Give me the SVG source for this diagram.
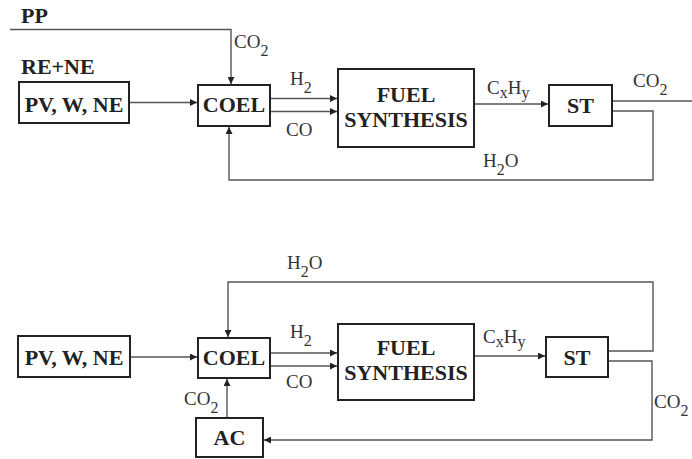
<svg xmlns="http://www.w3.org/2000/svg" width="692" height="459" viewBox="0 0 692 459">
<defs>
<marker id="ah" viewBox="0 0 10 10" refX="10" refY="5" markerWidth="7" markerHeight="7" markerUnits="userSpaceOnUse" orient="auto"><path d="M0,0 L10,5 L0,10 z" fill="#222"/></marker>
<style>
.box{fill:#fff;stroke:#222;stroke-width:2}
.bl{font-family:"Liberation Serif","Times New Roman",serif;font-weight:bold;font-size:22px;fill:#222;text-anchor:middle}
.hd{font-family:"Liberation Serif","Times New Roman",serif;font-weight:bold;font-size:22px;fill:#222}
.lb{font-family:"Liberation Serif","Times New Roman",serif;font-size:19px;fill:#333}
.sb{font-size:16px}
.ln{fill:none;stroke:#555;stroke-width:1.4}
.ar{marker-end:url(#ah)}
</style>
</defs>
<rect width="692" height="459" fill="#fff"/>
<g id="headers">
<text class="hd" x="21" y="23">PP</text>
<text class="hd" x="21" y="74">RE+NE</text>
</g>
<g id="connectors">
<polyline class="ln ar" points="10,29.5 231,29.5 231,84"/>
<line class="ln ar" x1="129" y1="102.5" x2="197" y2="102.5"/>
<line class="ln ar" x1="271" y1="98.5" x2="337" y2="98.5"/>
<line class="ln ar" x1="271" y1="111.5" x2="337" y2="111.5"/>
<line class="ln ar" x1="474" y1="104" x2="548" y2="104"/>
<line class="ln" x1="612" y1="101" x2="692" y2="101"/>
<polyline class="ln ar" points="612,111 653,111 653,180 229,180 229,127"/>
<polyline class="ln ar" points="608,351 653,351 653,282 228,282 228,337"/>
<line class="ln ar" x1="130" y1="357" x2="197" y2="357"/>
<line class="ln ar" x1="271" y1="353" x2="337" y2="353"/>
<line class="ln ar" x1="271" y1="366" x2="337" y2="366"/>
<line class="ln ar" x1="474" y1="356" x2="545" y2="356"/>
<polyline class="ln ar" points="608,361 652,361 652,440 264,440"/>
<line class="ln ar" x1="227" y1="418" x2="227" y2="379"/>
</g>
<g id="labels">
<text class="lb" x="234" y="48">CO<tspan class="sb" dy="8">2</tspan></text>
<text class="lb" x="290" y="85">H<tspan class="sb" dy="8">2</tspan></text>
<text class="lb" x="286" y="136">CO</text>
<text class="lb" x="487" y="94">C<tspan class="sb" dy="4">x</tspan><tspan dy="-4">H</tspan><tspan class="sb" dy="4">y</tspan></text>
<text class="lb" x="633" y="87">CO<tspan class="sb" dy="8">2</tspan></text>
<text class="lb" x="483" y="167">H<tspan class="sb" dy="8">2</tspan><tspan dy="-8">O</tspan></text>
<text class="lb" x="287" y="269">H<tspan class="sb" dy="8">2</tspan><tspan dy="-8">O</tspan></text>
<text class="lb" x="290" y="338">H<tspan class="sb" dy="8">2</tspan></text>
<text class="lb" x="286" y="388">CO</text>
<text class="lb" x="483" y="343">C<tspan class="sb" dy="4">x</tspan><tspan dy="-4">H</tspan><tspan class="sb" dy="4">y</tspan></text>
<text class="lb" x="654" y="408">CO<tspan class="sb" dy="8">2</tspan></text>
<text class="lb" x="184" y="405">CO<tspan class="sb" dy="8">2</tspan></text>
</g>
<g id="pv1"><rect class="box" x="19" y="82" width="110" height="41"/><text class="bl" x="74" y="112">PV, W, NE</text></g>
<g id="coel1"><rect class="box" x="198" y="85" width="72" height="41"/><text class="bl" x="234" y="112">COEL</text></g>
<g id="fuel1"><rect class="box" x="338" y="69" width="136" height="78"/><text class="bl" x="406" y="102">FUEL</text><text class="bl" x="406" y="127">SYNTHESIS</text></g>
<g id="st1"><rect class="box" x="549" y="85" width="63" height="41"/><text class="bl" x="580.5" y="113">ST</text></g>
<g id="pv2"><rect class="box" x="18" y="336" width="112" height="41"/><text class="bl" x="74" y="365">PV, W, NE</text></g>
<g id="coel2"><rect class="box" x="198" y="338" width="72" height="40"/><text class="bl" x="234" y="365">COEL</text></g>
<g id="fuel2"><rect class="box" x="338" y="324" width="136" height="76"/><text class="bl" x="406" y="355">FUEL</text><text class="bl" x="406" y="380">SYNTHESIS</text></g>
<g id="st2"><rect class="box" x="546" y="337" width="62" height="40"/><text class="bl" x="577" y="365">ST</text></g>
<g id="ac"><rect class="box" x="196" y="418" width="67" height="39"/><text class="bl" x="229.5" y="445">AC</text></g>
</svg>
